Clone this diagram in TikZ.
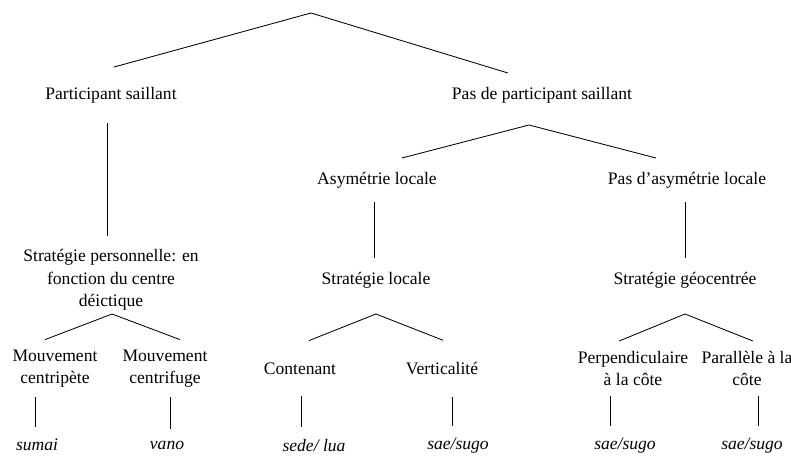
\documentclass[tikz,border=0pt]{standalone}
\usepackage{fontspec}
\setmainfont{Liberation Serif}
\usepackage{tikz}
\usetikzlibrary{positioning}

\begin{document}
\begin{tikzpicture}[
    lbl/.style={
      font=\fontsize{12.5}{16}\selectfont, align=center,
      inner sep=0pt, outer ysep=0.35cm,
    },
    ex/.style={lbl, font=\fontsize{12.5}{16}\selectfont\itshape},
    br/.style={line width=0.6pt, black},
  ]

  \useasboundingbox (0,0) rectangle (19.775,11.4);

  % =================== LEVEL 1 ===================
  \coordinate (root) at (7.775, 11.075);
  \node[lbl, outer ysep=0.5cm] (ps)  at (2.775, 9.025) {Participant saillant};
  \node[lbl] (pps) at (13.55, 9.025) {Pas de participant saillant};

  \draw[br] ([xshift=0.075cm]ps.north) -- (root) -- ([xshift=-0.85cm]pps.north);

  % =================== LEVEL 2 ===================
  \coordinate (a2) at (13.225, 8.275);
  \node[lbl] (al)  at (9.425, 6.9) {Asymétrie locale};
  \node[lbl] (pal) at (17.175, 6.9) {Pas d’asymétrie locale};

  \draw[br] ([xshift=0.625cm]al.north) -- (a2) -- ([xshift=-0.775cm]pal.north);

  % =================== STRATEGIES ===================
  \node[lbl] (sp) at (2.775, 4.4) {Stratégie personnelle: en\\fonction du centre\\déictique};
  \node[lbl] (sl) at (9.4, 4.4) {Stratégie locale};
  \node[lbl] (sg) at (17.125, 4.4) {Stratégie géocentrée};

  \draw[br] ([xshift=-0.1cm]ps.south) -- ([xshift=-0.1cm]ps.south |- sp.north);
  \draw[br] ([xshift=-0.075cm]al.south) -- ([xshift=-0.075cm]al.south |- sl.north);
  \draw[br] ([xshift=-0.05cm]pal.south) -- ([xshift=-0.05cm]pal.south |- sg.north);

  % =================== LEAVES ===================
  \coordinate (a3a) at (2.8, 3.55);
  \coordinate (a3b) at (9.4, 3.55);
  \coordinate (a3c) at (17.125, 3.55);

  \node[lbl, outer ysep=0.25cm] (m1) at (1.375, 2.1875) {Mouvement\\centripète};
  \node[lbl, outer ysep=0.25cm] (m2) at (4.125, 2.1875) {Mouvement\\centrifuge};
  \node[lbl, outer ysep=0.55cm] (ct) at (7.5, 2.1875) {Contenant};
  \node[lbl, outer ysep=0.55cm] (vt) at (11.05, 2.1875) {Verticalité};
  \node[lbl, outer ysep=0.25cm] (pe) at (15.825, 2.1875) {Perpendiculaire\\à la côte};
  \node[lbl, outer ysep=0.25cm] (pa) at (18.675, 2.1875) {Parallèle à la\\côte};

  \draw[br] ([xshift=-0.25cm]m1.north) -- (a3a) -- ([xshift=0.375cm]m2.north);
  \draw[br] ([xshift=0.225cm]ct.north) -- (a3b) -- ([xshift=0.025cm]vt.north);
  \draw[br] ([xshift=-0.35cm]pe.north) -- (a3c) -- ([xshift=0.15cm]pa.north);

  % Examples
  \node[ex, outer ysep=0.3cm] (w1) at (0.925, 0.27) {sumai};
  \node[ex, outer ysep=0.3cm] (w2) at (4.175, 0.27) {vano};
  \node[ex, outer ysep=0.3cm] (w3) at (7.85, 0.27) {sede/ lua};
  \node[ex, outer ysep=0.3cm] (w4) at (11.45, 0.27) {sae/sugo};
  \node[ex, outer ysep=0.3cm] (w5) at (15.625, 0.27) {sae/sugo};
  \node[ex, outer ysep=0.3cm] (w6) at (18.8, 0.27) {sae/sugo};

  \draw[br] ([xshift=-0.5cm]m1.south) -- ([xshift=-0.5cm]m1.south |- w1.north);
  \draw[br] ([xshift=0.125cm]m2.south) -- ([xshift=0.125cm]m2.south |- w2.north);
  \draw[br] ([xshift=0.025cm]ct.south) -- ([xshift=0.025cm]ct.south |- w3.north);
  \draw[br] ([xshift=0.25cm]vt.south) -- ([xshift=0.25cm]vt.south |- w4.north);
  \draw[br] ([xshift=-0.575cm]pe.south) -- ([xshift=-0.575cm]pe.south |- w5.north);
  \draw[br] ([xshift=0.275cm]pa.south) -- ([xshift=0.275cm]pa.south |- w6.north);

\end{tikzpicture}
\end{document}
